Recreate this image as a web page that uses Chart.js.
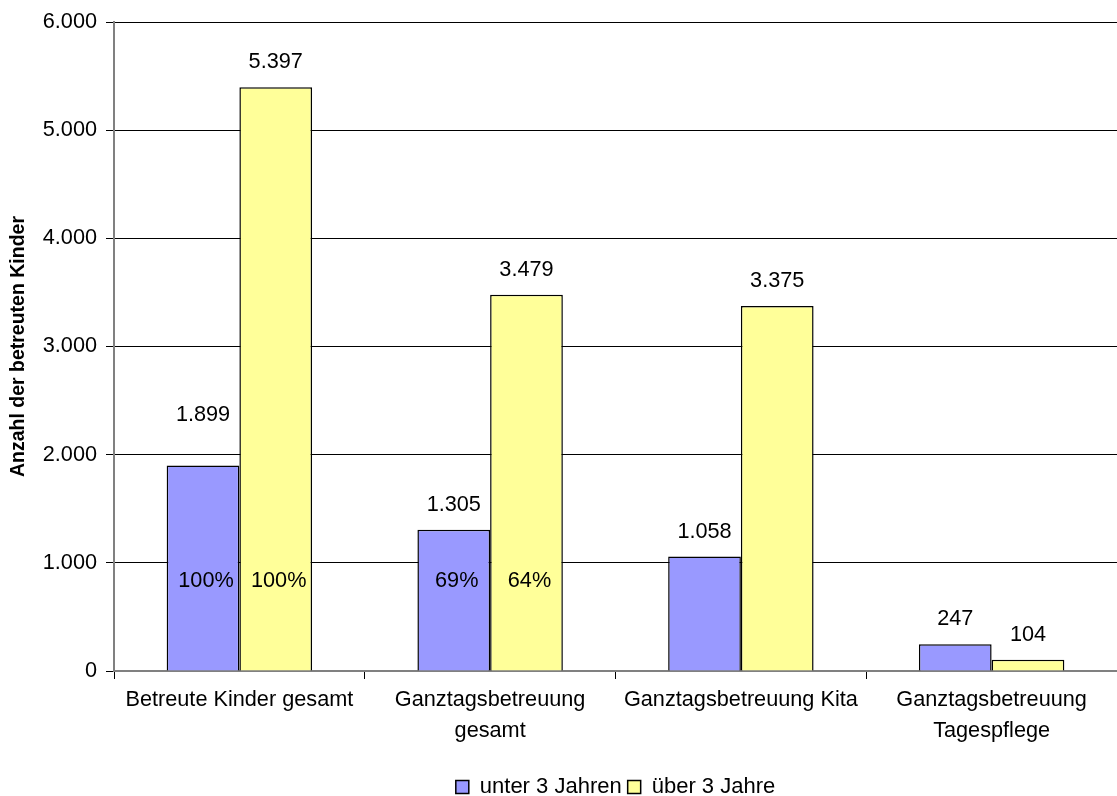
<!DOCTYPE html>
<html>
<head>
<meta charset="utf-8">
<script src="https://cdn.jsdelivr.net/npm/chart.js@4/dist/chart.umd.min.js"></script>
<style>
  html, body { margin: 0; padding: 0; background: #fff; }
  #wrap { width: 1117px; height: 796px; }
</style>
</head>
<body>
<div id="wrap"><canvas id="chart" width="1117" height="796"></canvas></div>
<script>
// ----- Data -----
const categories = [
  "Betreute Kinder gesamt",
  ["Ganztagsbetreuung", "gesamt"],
  "Ganztagsbetreuung Kita",
  ["Ganztagsbetreuung", "Tagespflege"],
];
const seriesNames = ["unter 3 Jahren", "über 3 Jahre"];
const unter3 = [1899, 1305, 1058, 247];
const ueber3 = [5397, 3479, 3375, 104];
const unter3Pct = ["100%", "69%", "", ""];
const ueber3Pct = ["100%", "64%", "", ""];
const yTicks = [0, 1000, 2000, 3000, 4000, 5000, 6000];

const FONT = "'Liberation Sans', Arial, Helvetica, sans-serif";
const FS = 21.7;

// German thousands separator
function fmt(v) {
  return String(Math.round(v)).replace(/\B(?=(\d{3})+(?!\d))/g, ".");
}

// value labels above bars + percentages inside bars
const barLabels = {
  id: "barLabels",
  afterDatasetsDraw(chart, args, opts) {
    const ctx = chart.ctx;
    const y = chart.scales.y;
    const pct = [unter3Pct, ueber3Pct];
    ctx.save();
    ctx.font = `${FS}px ${FONT}`;
    ctx.fillStyle = "#000";
    ctx.textAlign = "center";
    ctx.textBaseline = "middle";
    chart.data.datasets.forEach((ds, di) => {
      chart.getDatasetMeta(di).data.forEach((bar, i) => {
        const extra = (opts.extraLift[di + "-" + i] || 0);
        ctx.fillText(fmt(ds.data[i]), bar.x, bar.y - opts.lift - extra);
        if (pct[di][i]) ctx.fillText(pct[di][i], bar.x + 3, y.getPixelForValue(opts.pctValue));
      });
    });
    ctx.restore();
  },
};

new Chart(document.getElementById("chart"), {
  type: "bar",
  data: {
    labels: categories,
    datasets: [
      {
        label: seriesNames[0],
        data: unter3,
        backgroundColor: "#9999FF",
        borderColor: "#000",
        borderWidth: 1.5,
      },
      {
        label: seriesNames[1],
        data: ueber3,
        backgroundColor: "#FFFF99",
        borderColor: "#000",
        borderWidth: 1.5,
      },
    ],
  },
  options: {
    responsive: false,
    animation: false,
    // negative bottom padding lets the legend row sit close to the edge
    layout: { padding: { top: 20, right: 0, left: 0, bottom: -12 } },
    datasets: {
      bar: { categoryPercentage: 0.58, barPercentage: 1.0 },
    },
    plugins: {
      legend: {
        position: "bottom",
        fullSize: false,
        labels: {
          font: { family: FONT, size: 22 },
          color: "#000",
          boxWidth: 13,
          boxHeight: 13,
          padding: 6,
          useBorderRadius: false,
        },
      },
      tooltip: { enabled: false },
      barLabels: { lift: 25, extraLift: { "0-0": 26 }, pctValue: 830 },
    },
    scales: {
      x: {
        offset: true,
        grid: {
          offset: true,
          drawOnChartArea: false,
          drawTicks: true,
          tickLength: 8,
          color: "#000",
        },
        border: { color: "#808080", width: 2 },
        ticks: {
          font: { family: FONT, size: FS, lineHeight: 1.4 },
          color: "#000",
          maxRotation: 0,
          autoSkip: false,
          padding: 6,
        },
        afterFit(scale) { scale.height = 99; },
      },
      y: {
        min: 0,
        max: 6000,
        afterBuildTicks(scale) { scale.ticks = yTicks.map((v) => ({ value: v })); },
        grid: { color: "#000", lineWidth: 1, tickLength: 8 },
        border: { color: "#808080", width: 2 },
        ticks: {
          font: { family: FONT, size: FS },
          color: "#000",
          padding: 9,
          callback: (v) => fmt(v),
        },
        title: {
          display: true,
          text: "Anzahl der betreuten Kinder",
          font: { family: FONT, size: 19.5, weight: "bold" },
          color: "#000",
          padding: { top: 7, bottom: 0 },
        },
        afterFit(scale) { scale.width = 114; },
      },
    },
  },
  plugins: [barLabels],
});
</script>
</body>
</html>
